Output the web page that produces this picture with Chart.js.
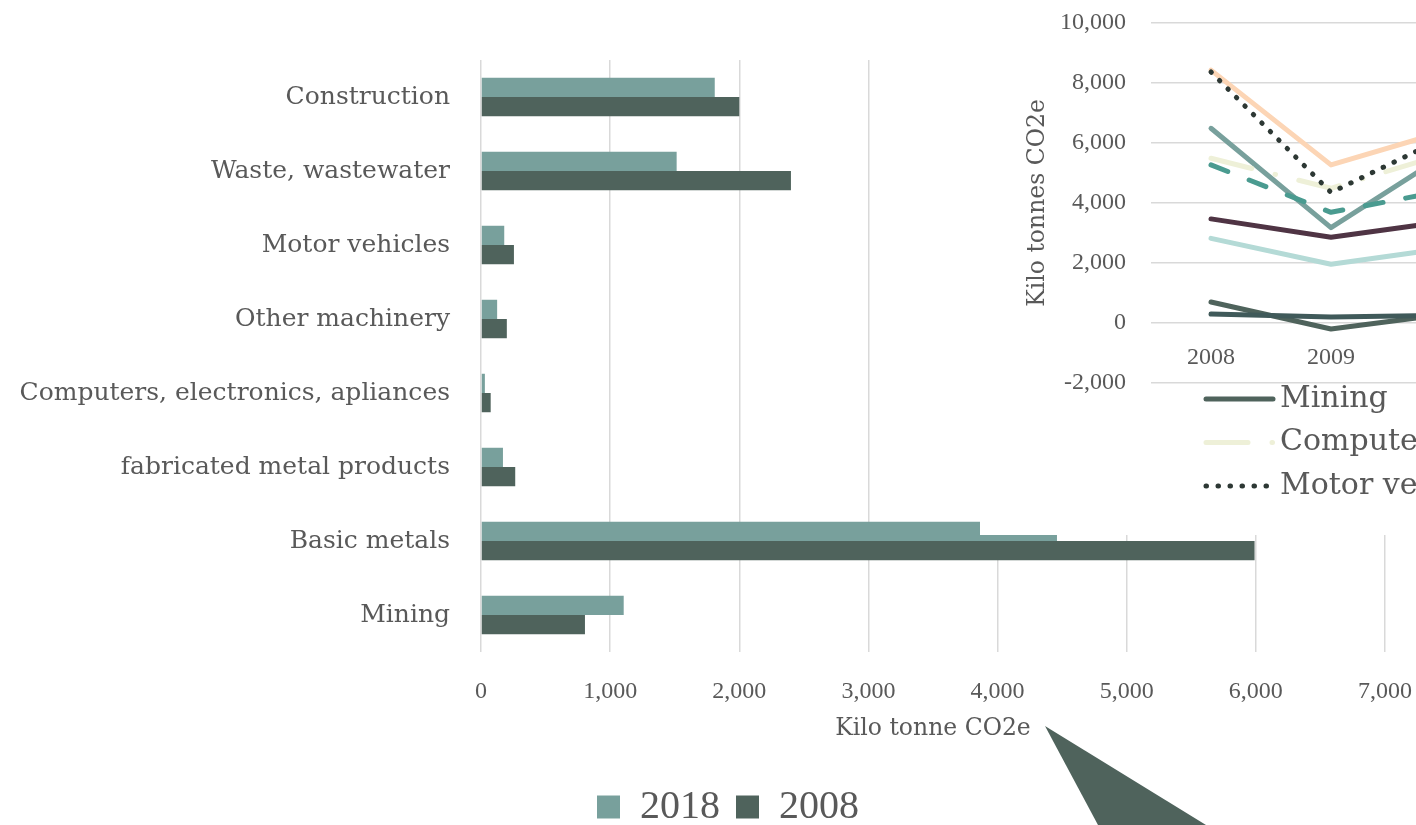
<!DOCTYPE html>
<html>
<head>
<meta charset="utf-8">
<script src="https://cdn.jsdelivr.net/npm/chart.js@4.4.1/dist/chart.umd.min.js"></script>
<style>
html, body { margin: 0; padding: 0; width: 1416px; height: 825px; overflow: hidden; background: #fff; }
#bars { position: absolute; left: 0; top: 0; }
#lines { position: absolute; left: 980px; top: 0; background: #fff; }
#pointer { position: absolute; left: 0; top: 0; }
</style>
</head>
<body>
<canvas id="bars" width="1456" height="837"></canvas>
<canvas id="lines" width="560" height="535"></canvas>
<svg id="pointer" width="1416" height="825"><polygon points="1045,726 1098,825 1206,825" fill="#4f635c"/></svg>
<script>
// bar chart: emissions by sector, 2018 vs 2008
const sectors = ['Construction', 'Waste, wastewater', 'Motor vehicles', 'Other machinery',
    'Computers, electronics, apliances', 'fabricated metal products', 'Basic metals', 'Mining'];
const emissions2018 = [1810, 1515, 180, 125, 30, 170, 4460, 1105];
const emissions2008 = [2000, 2400, 255, 200, 75, 265, 5990, 805];
const barTicks = [0, 1000, 2000, 3000, 4000, 5000, 6000, 7000];

// inset line chart (only the first years are visible)
const years = ['2008', '2009', '2010'];
const mining = [700, -200, 320];
const basicMetals = [8430, 5270, 6450];
const fabricatedMetal = [6490, 3180, 5740];
const computers = [5490, 4490, 5700];
const otherMachinery = [5270, 3690, 4450];
const otherIndustry = [3470, 2860, 3410];
const motorVehicles = [8370, 4350, 6280];
const waste = [2820, 1960, 2520];
const construction = [300, 200, 260];

const grey = '#595959';
const numFont = '"Liberation Serif"';
const textFont = '"DejaVu Serif"';
Chart.defaults.color = grey;
Chart.defaults.font.family = textFont;

// centre the bottom legend on the whole canvas, not just left of the padding
const centreLegend = {
    id: 'centreLegend',
    afterLayout(chart) {
        chart.legend.left = 0;
        chart.legend.right = chart.width;
        chart.legend.width = chart.width;
    }
};

new Chart(document.getElementById('bars'), {
    type: 'bar',
    data: {
        labels: sectors,
        datasets: [
            { label: '2018', data: emissions2018, backgroundColor: '#78a09c' },
            { label: '2008', data: emissions2008, backgroundColor: '#4f635c' }
        ]
    },
    options: {
        indexAxis: 'y',
        responsive: false,
        animation: false,
        devicePixelRatio: 1,
        categoryPercentage: 0.52,
        barPercentage: 1,
        layout: { padding: { top: 60, right: 71, left: 0, bottom: 0 } },
        scales: {
            x: {
                min: barTicks[0],
                max: barTicks[barTicks.length - 1],
                ticks: { stepSize: 1000, padding: 25, font: { family: numFont, size: 24 } },
                grid: { color: '#d9d9d9', lineWidth: 1.5, drawTicks: false },
                border: { display: false },
                title: {
                    display: true, text: 'Kilo tonne CO2e',
                    font: { size: 23.5 }, padding: { top: 0, bottom: 28 }
                },
                afterFit: s => { s.height = 119; }
            },
            y: {
                grid: { display: false },
                border: { display: false },
                ticks: { padding: 23, font: { size: 25 } },
                afterFit: s => { s.width = 481; }
            }
        },
        plugins: {
            tooltip: { enabled: false },
            legend: {
                position: 'bottom',
                labels: { boxWidth: 23, boxHeight: 23, padding: 16, font: { family: numFont, size: 40 } }
            }
        }
    },
    plugins: [centreLegend]
});

const lineSeries = [
    { label: 'Mining', data: mining, color: '#4f635c', dash: [] },
    { label: 'Basic metals', data: basicMetals, color: '#fcd5b5', dash: [] },
    { label: 'fabricated metal products', data: fabricatedMetal, color: '#78a09c', dash: [] },
    { label: 'Computers, electronics, apliances', data: computers, color: '#eef0d8', dash: [42, 24, 0.5, 24] },
    { label: 'Other machinery', data: otherMachinery, color: '#4a9b90', dash: [18, 23] },
    { label: 'Other industry', data: otherIndustry, color: '#4f3444', dash: [] },
    { label: 'Motor vehicles', data: motorVehicles, color: '#2d3834', dash: [0.5, 11.5] },
    { label: 'Waste, wastewater', data: waste, color: '#b4dad6', dash: [] },
    { label: 'Construction', data: construction, color: '#405a5a', dash: [] }
];

// legend laid out in a 3-column grid like the original
const insetLegend = {
    id: 'insetLegend',
    afterDraw(chart) {
        const { ctx, chartArea } = chart;
        ctx.save();
        ctx.font = '30px ' + textFont;
        ctx.textBaseline = 'middle';
        chart.data.datasets.forEach((ds, i) => {
            const x = chartArea.left + 52 + (i % 3) * 620;
            const y = chartArea.bottom + 16 + Math.floor(i / 3) * 43.5;
            ctx.strokeStyle = ds.borderColor;
            ctx.lineWidth = ds.borderWidth;
            ctx.lineCap = 'round';
            ctx.setLineDash(ds.borderDash);
            ctx.beginPath();
            ctx.moveTo(x + 3, y);
            ctx.lineTo(x + 70, y);
            ctx.stroke();
            ctx.setLineDash([]);
            ctx.fillStyle = grey;
            ctx.fillText(ds.label, x + 77, y);
        });
        ctx.restore();
    }
};

new Chart(document.getElementById('lines'), {
    type: 'line',
    data: {
        labels: years,
        datasets: lineSeries.map((s, i) => ({
            label: s.label,
            data: s.data,
            borderColor: s.color,
            borderDash: s.dash,
            borderWidth: 5,
            borderCapStyle: 'round',
            borderJoinStyle: 'round',
            pointRadius: 0,
            tension: 0,
            order: lineSeries.length - i
        }))
    },
    options: {
        responsive: false,
        animation: false,
        devicePixelRatio: 1,
        layout: { padding: { top: 23, bottom: 152, left: 0, right: 29 } },
        scales: {
            x: {
                position: { y: 0 },
                offset: true,
                grid: { display: false },
                border: { display: false },
                ticks: { padding: 12, font: { family: numFont, size: 24 } }
            },
            y: {
                min: -2000,
                max: 10000,
                ticks: { stepSize: 2000, padding: 25, font: { family: numFont, size: 24 } },
                grid: { color: '#d9d9d9', lineWidth: 1.5, drawTicks: false },
                border: { display: false },
                title: {
                    display: true, text: 'Kilo tonnes CO2e',
                    font: { size: 23.5 }, padding: { top: 44, bottom: 0 }
                },
                afterFit: s => {
                    s.width = 171;
                    // tick padding would otherwise push the plot top down
                    s.paddingTop = 0;
                    s.paddingBottom = 0;
                }
            }
        },
        plugins: {
            tooltip: { enabled: false },
            legend: { display: false }
        }
    },
    plugins: [insetLegend]
});
</script>
</body>
</html>
